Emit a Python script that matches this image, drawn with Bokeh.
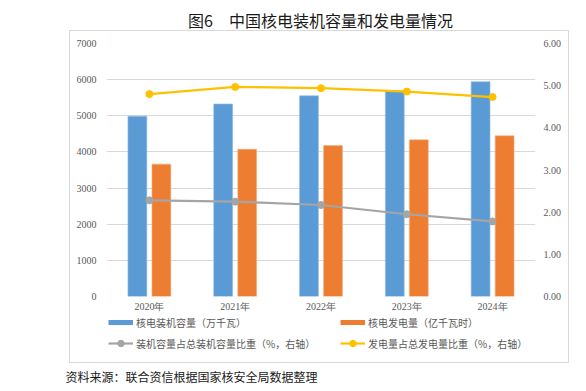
from bokeh.plotting import figure
from bokeh.layouts import column
from bokeh.models import (Range1d, LinearAxis, FactorRange, Legend, LegendItem, Label, Title,
                          FixedTicker, ColumnDataSource, NumeralTickFormatter, InlineStyleSheet)
from bokeh.transform import dodge
from bokeh.embed import file_html
from bokeh.resources import INLINE

years = ["2020年", "2021年", "2022年", "2023年", "2024年"]
capacity = [4989, 5326, 5553, 5691, 5943]          # 万千瓦
generation = [3662, 4075, 4178, 4334, 4447]        # 亿千瓦时
cap_share = [2.28, 2.25, 2.17, 1.95, 1.78]         # %
gen_share = [4.80, 4.97, 4.94, 4.86, 4.73]         # %

title_text = "图6　中国核电装机容量和发电量情况"
source_text = "资料来源：联合资信根据国家核安全局数据整理"
names = ["核电装机容量（万千瓦）", "核电发电量（亿千瓦时）",
         "装机容量占总装机容量比重（%，右轴）", "发电量占总发电量比重（%，右轴）"]

BLUE, ORANGE, GRAY, GOLD = "#5b9bd5", "#ed7d31", "#a5a5a5", "#ffc000"
SERIF = "Liberation Serif"
CJK = "Noto Sans CJK SC"
GRAY_TXT = "#595959"

src = ColumnDataSource(dict(x=years, cap=capacity, gen=generation, cs=cap_share, gs=gen_share))

FL, FR = 106, 535          # frame left/right in page pixels (frames are aligned in the column)

# ---------- title strip ----------
t = figure(frame_width=FR - FL, height=33, x_range=Range1d(FL, FR), y_range=Range1d(33, 0),
           x_axis_location=None, y_axis_location=None,
           min_border_left=FL, min_border_right=586 - FR, min_border_top=0, min_border_bottom=0,
           output_backend="svg", toolbar_location=None)
t.outline_line_color = None
t.grid.grid_line_color = None
t.add_layout(Label(x=320, y=19, text=title_text, text_font=CJK, text_font_size="16px",
                   text_color="#1a1a1a", text_align="center", text_baseline="middle"))

# ---------- main chart ----------
p = figure(frame_width=FR - FL, frame_height=253, x_range=FactorRange(*years), y_range=Range1d(0, 7000),
           output_backend="svg", toolbar_location=None,
           min_border_left=FL, min_border_right=586 - FR, min_border_top=10, min_border_bottom=18)
p.extra_y_ranges = {"r": Range1d(0, 6)}
p.outline_line_color = None

p.vbar(x=dodge("x", -0.14, range=p.x_range), top="cap", width=0.22, source=src,
       fill_color=BLUE, line_color="#8fbce6", line_width=0.6)
p.vbar(x=dodge("x", 0.14, range=p.x_range), top="gen", width=0.22, source=src,
       fill_color=ORANGE, line_color="#f4b183", line_width=0.6)
p.line(x="x", y="cs", source=src, y_range_name="r", line_color=GRAY, line_width=2.2)
p.scatter(x="x", y="cs", source=src, y_range_name="r", size=7, fill_color=GRAY, line_color=GRAY)
p.line(x="x", y="gs", source=src, y_range_name="r", line_color=GOLD, line_width=2.2)
p.scatter(x="x", y="gs", source=src, y_range_name="r", size=7, fill_color=GOLD, line_color=GOLD)

ra = LinearAxis(y_range_name="r", ticker=FixedTicker(ticks=[0, 1, 2, 3, 4, 5, 6]),
                formatter=NumeralTickFormatter(format="0.00"))
p.add_layout(ra, "right")

p.yaxis[0].ticker = FixedTicker(ticks=list(range(0, 7001, 1000)))
for ax in p.yaxis + p.xaxis:
    ax.axis_line_color = None
    ax.major_tick_line_color = None
    ax.minor_tick_line_color = None
    ax.major_tick_out = 0
    ax.major_tick_in = 0
    ax.major_label_text_color = GRAY_TXT
    ax.major_label_text_font = SERIF
    ax.major_label_text_font_size = "10px"
p.yaxis[0].major_label_standoff = 10
ra.major_label_standoff = 8
p.xaxis.major_label_standoff = 4
p.xgrid.grid_line_color = None
p.ygrid.grid_line_color = "#d9d9d9"
p.ygrid.grid_line_width = 1

# ---------- legend + source strip ----------
GH = 50
g = figure(frame_width=FR - FL, frame_height=GH, x_range=Range1d(FL, FR), y_range=Range1d(GH, 0),
           x_axis_location=None, y_axis_location=None,
           min_border_left=FL, min_border_right=586 - FR, min_border_top=0, min_border_bottom=0,
           output_backend="svg", toolbar_location=None)
g.outline_line_color = None
g.grid.grid_line_color = None
# hidden legend proxies (same styles as the chart's series)
s1 = g.line(x="cap", y="cs", source=src, line_color=BLUE, line_width=5, visible=False)
s2 = g.line(x="gen", y="cs", source=src, line_color=ORANGE, line_width=5, visible=False)
s3 = g.line(x="cap", y="cs", source=src, line_color=GRAY, line_width=2.2, visible=False)
s3m = g.scatter(x="cap", y="cs", source=src, size=7, fill_color=GRAY, line_color=GRAY, visible=False)
s4 = g.line(x="cap", y="gs", source=src, line_color=GOLD, line_width=2.2, visible=False)
s4m = g.scatter(x="cap", y="gs", source=src, size=7, fill_color=GOLD, line_color=GOLD, visible=False)

def make_legend(items, loc):
    return Legend(items=items, orientation="horizontal", location=loc,
                  label_text_font=CJK, label_text_font_size="10px", label_text_color=GRAY_TXT,
                  glyph_width=25, glyph_height=16, label_width=200, spacing=4,
                  label_standoff=3, padding=0, margin=0, border_line_color=None,
                  background_fill_alpha=0, inactive_fill_alpha=0)

g.add_layout(make_legend([LegendItem(label=names[0], renderers=[s1]),
                          LegendItem(label=names[1], renderers=[s2])], (2, GH - 16)))
g.add_layout(make_legend([LegendItem(label=names[2], renderers=[s3, s3m]),
                          LegendItem(label=names[3], renderers=[s4, s4m])], (2, GH - 37)))
g.add_layout(Title(text=source_text, align="left", offset=65 - FL, text_font=CJK,
                   text_font_size="12px", text_font_style="normal", text_color="#1a1a1a",
                   standoff=2), "below")

box_css = InlineStyleSheet(css="""
:host { position: relative; }
:host::after { content: ''; position: absolute; left: 69px; top: 30px; width: 498px; height: 331px;
  border: 1px solid #d9d9d9; pointer-events: none; }
""")
layout = column(t, p, g, spacing=0, stylesheets=[box_css])

open("out.html", "w").write(file_html(layout, INLINE))
